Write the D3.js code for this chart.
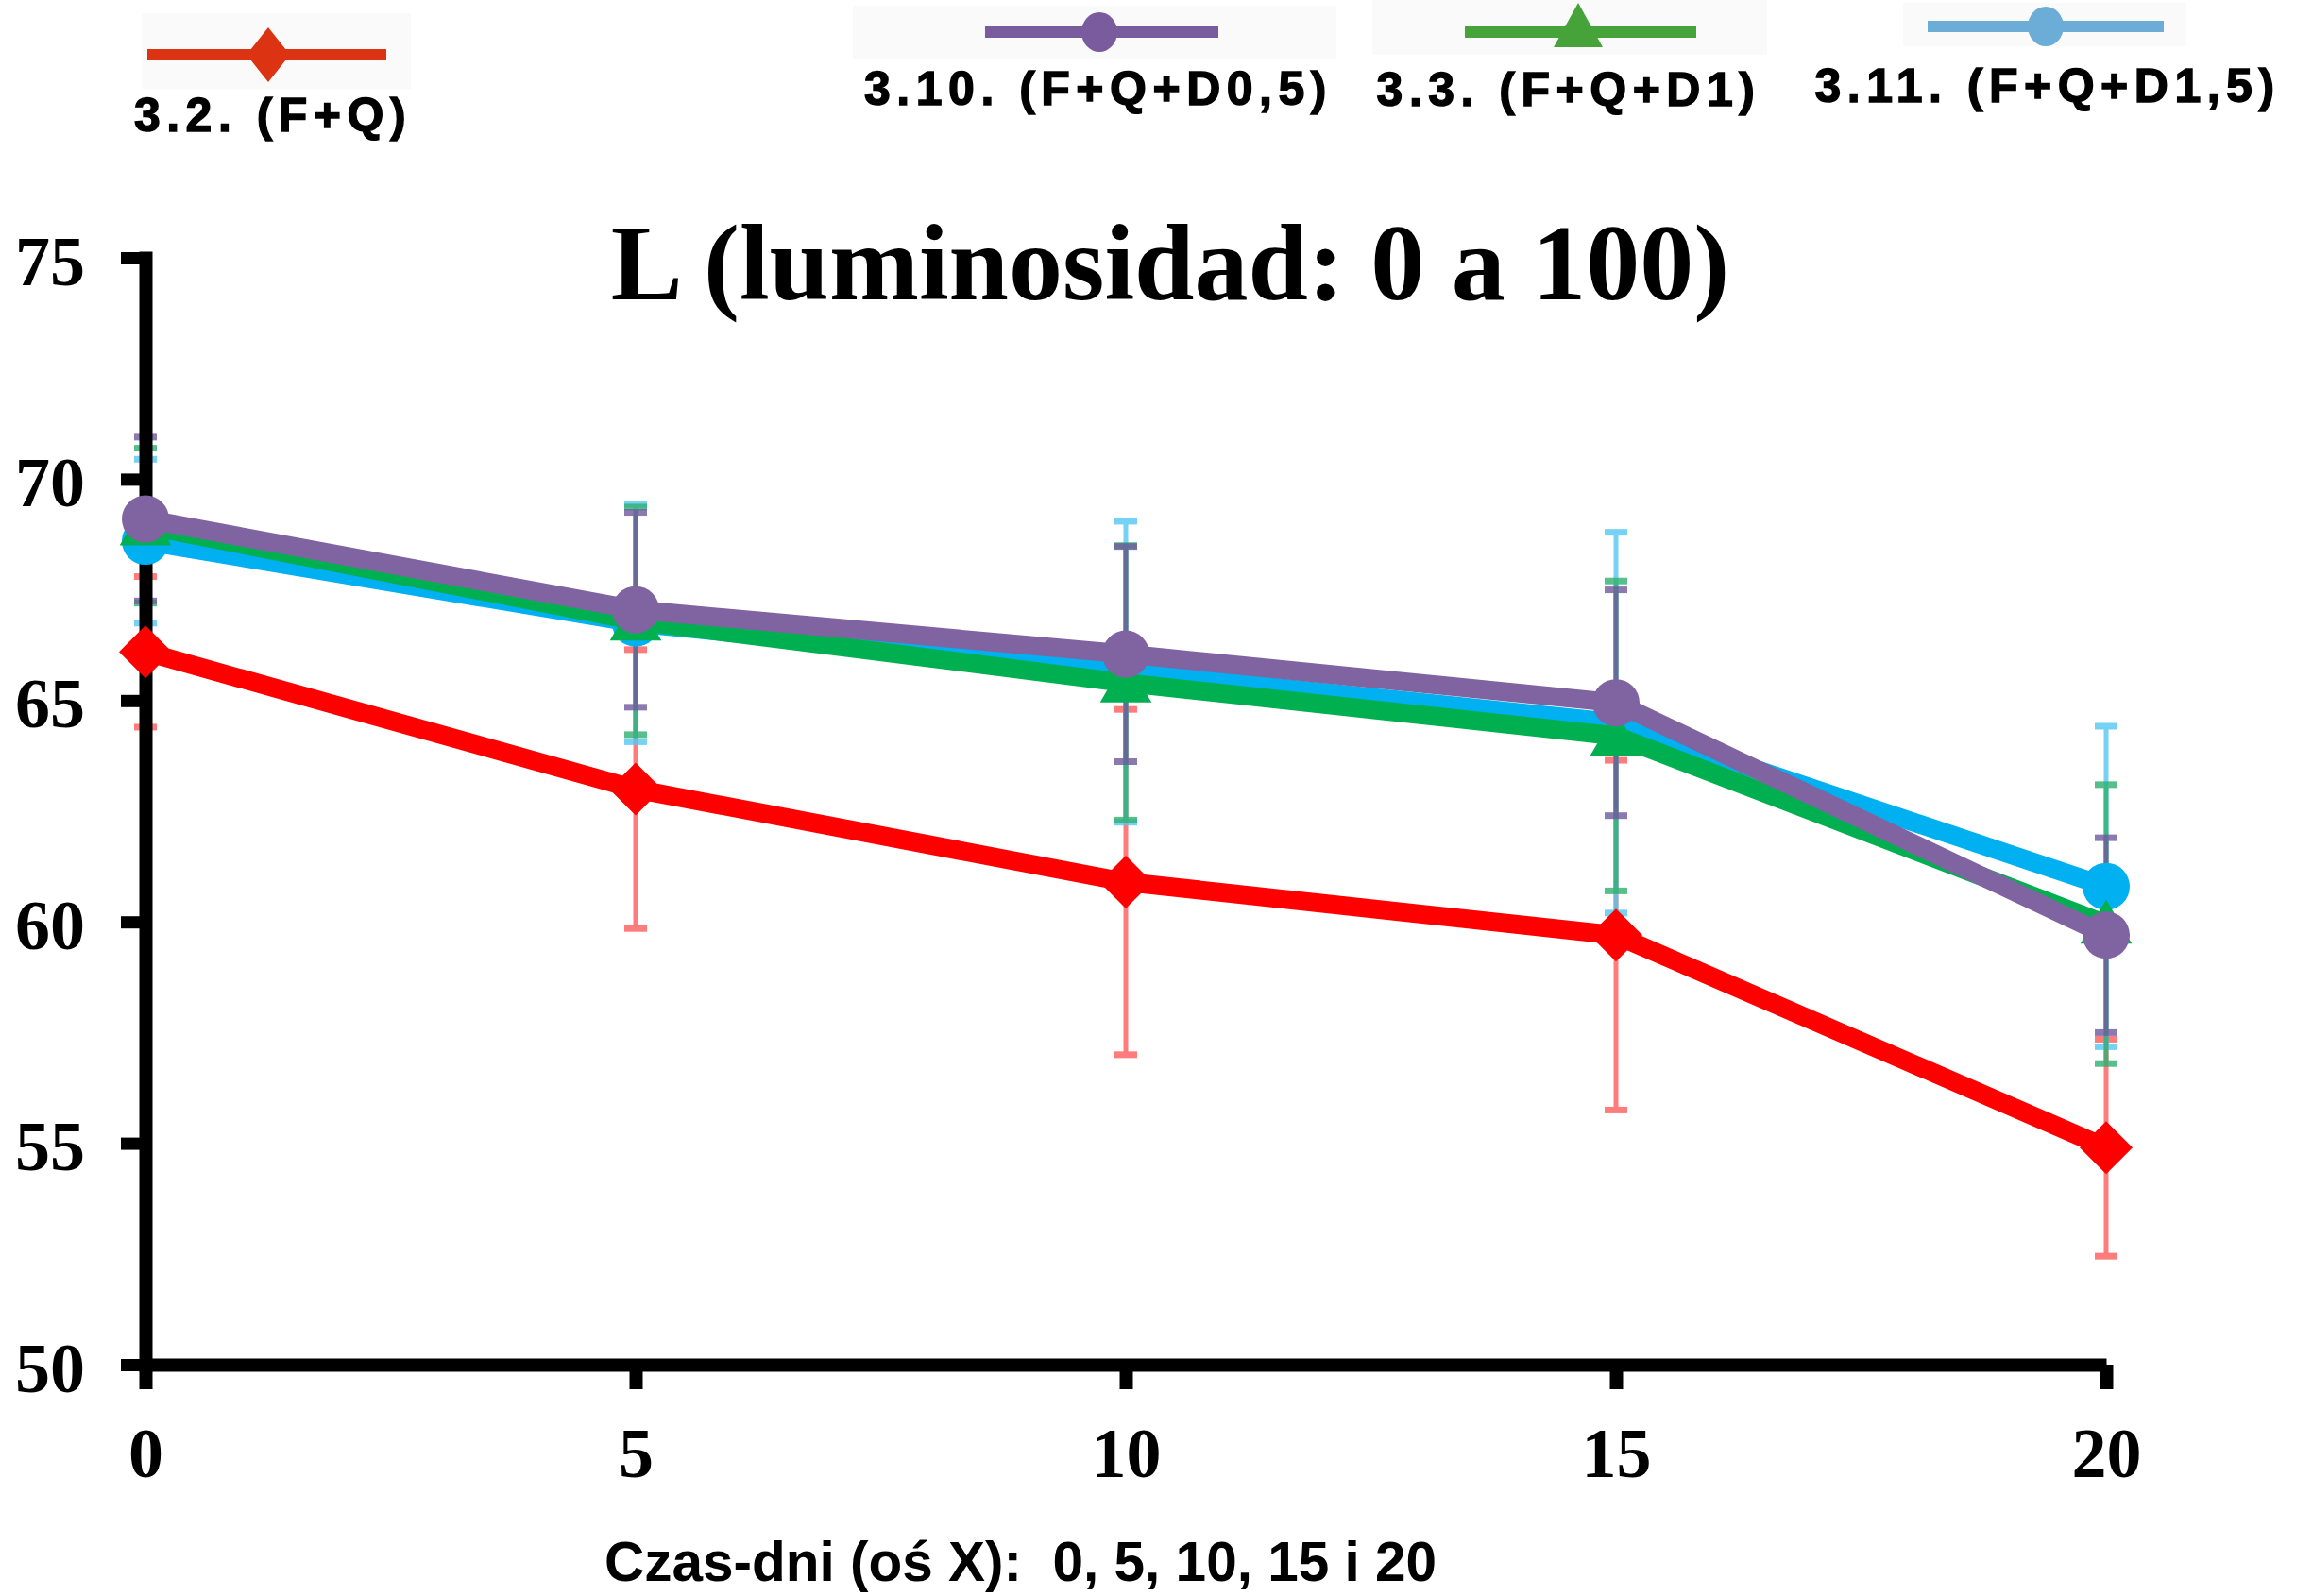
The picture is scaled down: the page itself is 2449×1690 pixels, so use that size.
<!DOCTYPE html>
<html>
<head>
<meta charset="utf-8">
<script src="https://cdn.jsdelivr.net/npm/d3@7"></script>
<style>
  html, body { margin: 0; padding: 0; background: #ffffff; }
  svg { display: block; }
</style>
</head>
<body>
<svg id="chart" width="2449" height="1690"></svg>
<script>
// ---------- DATA ----------
const days = [0, 5, 10, 15, 20];
const yTicks = [50, 55, 60, 65, 70, 75];
const xTicks = [0, 5, 10, 15, 20];

const seriesNames = ["3.2. (F+Q)", "3.10. (F+Q+D0,5)", "3.3. (F+Q+D1)", "3.11. (F+Q+D1,5)"];

const meanFQ      = [66.1, 63.0, 60.9, 59.7, 54.9];
const sdFQ        = [1.7, 3.15, 3.9, 3.95, 2.45];
const meanFQD05   = [69.1, 67.05, 66.05, 64.95, 59.7];
const sdFQD05     = [1.85, 2.2, 2.43, 2.55, 2.2];
const meanFQD1    = [68.95, 66.8, 65.4, 64.2, 59.95];
const sdFQD1      = [1.75, 2.57, 3.1, 3.5, 3.15];
const meanFQD15   = [68.6, 66.75, 65.65, 64.5, 60.8];
const sdFQD15     = [1.85, 2.68, 3.4, 4.3, 3.62];

const titleText = "L (luminosidad: 0 a 100)";
const xAxisLabel = "Czas-dni (oś X):  0, 5, 10, 15 i 20";

// ---------- SETUP ----------
const svg = d3.select("#chart");
const x = d3.scaleLinear().domain([0, 20]).range([154, 2230]);
const y = d3.scaleLinear().domain([50, 75]).range([1445, 273]);

const series = [
  { name: seriesNames[0], mean: meanFQ,    sd: sdFQ,    color: "#ff0000", err: "#ff5c5c", legendColor: "#dc3412", shape: "diamond" },
  { name: seriesNames[1], mean: meanFQD05, sd: sdFQD05, color: "#8064a2", err: "#6f5a9c", legendColor: "#7a5c9e", shape: "circle" },
  { name: seriesNames[2], mean: meanFQD1,  sd: sdFQD1,  color: "#00b050", err: "#2fb070", legendColor: "#45a33a", shape: "triangle" },
  { name: seriesNames[3], mean: meanFQD15, sd: sdFQD15, color: "#00b0f0", err: "#55c8f2", legendColor: "#6badd6", shape: "circle" }
];

function markerPath(shape, s) {
  if (shape === "diamond") return `M0,${-s}L${s},0L0,${s}L${-s},0Z`;
  if (shape === "triangle") return `M0,${-s}L${s * 1.05},${s * 0.8}L${-s * 1.05},${s * 0.8}Z`;
  return d3.symbol().type(d3.symbolCircle).size(Math.PI * s * s)();
}

// ---------- ERROR BARS ----------
const errOrder = [0, 3, 2, 1];
const errG = svg.append("g").attr("class", "errorbars");
errOrder.forEach(i => {
  const s = series[i];
  const g = errG.append("g").attr("opacity", 0.8);
  days.forEach((d, j) => {
    const top = y(s.mean[j] + s.sd[j]);
    const bot = y(s.mean[j] - s.sd[j]);
    const cx = x(d);
    g.append("line").attr("x1", cx).attr("x2", cx).attr("y1", top).attr("y2", bot)
      .attr("stroke", s.err).attr("stroke-width", 5);
    [top, bot].forEach(yy => {
      g.append("line").attr("x1", cx - 12).attr("x2", cx + 12).attr("y1", yy).attr("y2", yy)
        .attr("stroke", s.err).attr("stroke-width", 7);
    });
  });
});

// ---------- AXES ----------
const yAxis = d3.axisLeft(y).tickValues(yTicks).tickSize(26).tickSizeOuter(0).tickPadding(38);
const yg = svg.append("g").attr("transform", `translate(${x(0)},0)`).call(yAxis);
yg.select(".domain").attr("stroke", "#000").attr("stroke-width", 14).attr("stroke-linecap", "square");
yg.selectAll(".tick line").attr("stroke", "#000").attr("stroke-width", 13);
yg.selectAll(".tick text")
  .attr("font-family", "'Liberation Serif', 'Times New Roman', serif")
  .attr("font-weight", "bold").attr("font-size", 74).attr("fill", "#000")
  .attr("dy", "0.38em");

const xAxis = d3.axisBottom(x).tickValues(xTicks).tickSize(26).tickSizeOuter(0).tickPadding(40);
const xg = svg.append("g").attr("transform", `translate(0,${y(50)})`).call(xAxis);
xg.select(".domain").attr("stroke", "#000").attr("stroke-width", 14);
xg.selectAll(".tick line").attr("stroke", "#000").attr("stroke-width", 14);
xg.selectAll(".tick text")
  .attr("font-family", "'Liberation Serif', 'Times New Roman', serif")
  .attr("font-weight", "bold").attr("font-size", 74).attr("fill", "#000");

// ---------- LINES & MARKERS ----------
const lineGen = d3.line().x((d, j) => x(days[j])).y(d => y(d));
const drawOrder = [0, 3, 2, 1];
drawOrder.forEach(i => {
  const s = series[i];
  const g = svg.append("g");
  g.append("path").datum(s.mean).attr("d", lineGen)
    .attr("fill", "none").attr("stroke", s.color).attr("stroke-width", 20)
    .attr("stroke-linejoin", "round");
  const size = s.shape === "diamond" ? 28 : (s.shape === "triangle" ? 26 : 25);
  g.selectAll("path.marker").data(s.mean).enter().append("path")
    .attr("class", "marker")
    .attr("transform", (d, j) => `translate(${x(days[j])},${y(d)})`)
    .attr("d", markerPath(s.shape, size))
    .attr("fill", s.color);
});

// ---------- TITLE ----------
svg.append("text").attr("x", 1239).attr("y", 317)
  .attr("text-anchor", "middle")
  .attr("font-family", "'Liberation Serif', 'Times New Roman', serif")
  .attr("font-weight", "bold").attr("font-size", 114).attr("fill", "#000")
  .text(titleText);

// ---------- X AXIS LABEL ----------
svg.append("text").attr("x", 640).attr("y", 1674)
  .attr("font-family", "'Liberation Sans', Arial, sans-serif")
  .attr("font-weight", "bold").attr("font-size", 58.5).attr("fill", "#000")
  .style("white-space", "pre")
  .text(xAxisLabel);

// ---------- LEGEND ----------
const legendItems = [
  { s: series[0], bg: [150, 14, 285, 80], x1: 156, x2: 409, ly: 58, mx: 284, tx: 289, ty: 139 },
  { s: series[1], bg: [903, 6, 512, 56],  x1: 1043, x2: 1290, ly: 34, mx: 1164, tx: 1163, ty: 111 },
  { s: series[2], bg: [1453, 0, 418, 58], x1: 1551, x2: 1796, ly: 34, mx: 1671, tx: 1661, ty: 112 },
  { s: series[3], bg: [2015, 3, 300, 46], x1: 2041, x2: 2291, ly: 28, mx: 2166, tx: 2168, ty: 108 }
];
const lg = svg.append("g").attr("class", "legend");
legendItems.forEach(it => {
  lg.append("rect").attr("x", it.bg[0]).attr("y", it.bg[1]).attr("width", it.bg[2]).attr("height", it.bg[3])
    .attr("fill", "#fafafa");
});
legendItems.forEach(it => {
  const c = it.s.legendColor;
  lg.append("line").attr("x1", it.x1).attr("x2", it.x2).attr("y1", it.ly).attr("y2", it.ly)
    .attr("stroke", c).attr("stroke-width", 12);
  let d;
  if (it.s.shape === "diamond") d = "M0,-29L23,0L0,29L-23,0Z";
  else if (it.s.shape === "triangle") d = "M0,-31L26,16L-26,16Z";
  else d = null;
  if (d) {
    lg.append("path").attr("transform", `translate(${it.mx},${it.ly})`).attr("d", d).attr("fill", c);
  } else {
    lg.append("ellipse").attr("cx", it.mx).attr("cy", it.ly).attr("rx", 19).attr("ry", 21).attr("fill", c);
  }
  lg.append("text").attr("x", it.tx).attr("y", it.ty).attr("text-anchor", "middle")
    .attr("font-family", "'Liberation Sans', Arial, sans-serif")
    .attr("font-weight", "bold").attr("font-size", 50).attr("letter-spacing", 6.5)
    .attr("stroke", "#000").attr("stroke-width", 1.4)
    .attr("fill", "#000").text(it.s.name);
});
</script>
</body>
</html>
